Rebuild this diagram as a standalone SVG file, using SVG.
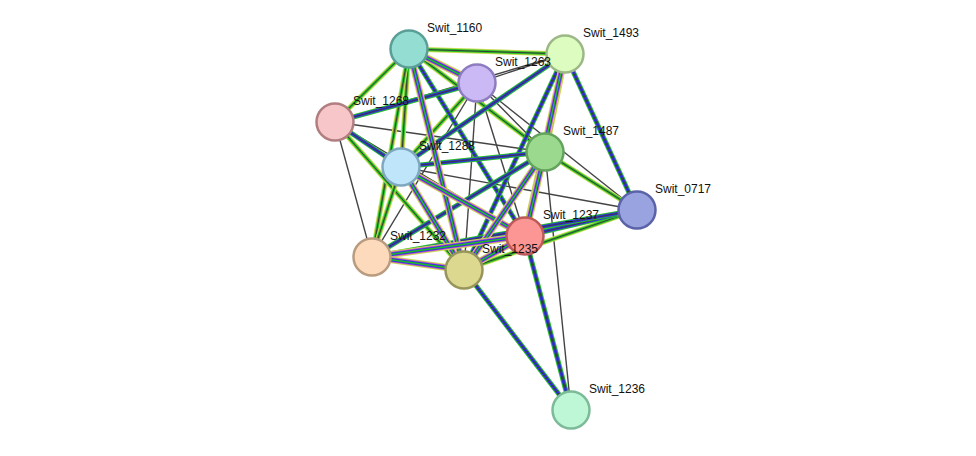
<svg xmlns="http://www.w3.org/2000/svg" xmlns:xlink="http://www.w3.org/1999/xlink" width="976" height="456" viewBox="0 0 976 456">
<style>
.ty7{stroke:#c8dc50;stroke-width:7}.tm5{stroke:#d050d0;stroke-width:5}.tb3{stroke:#3535e0;stroke-width:3.4}.tg1{stroke:#1fbf1f;stroke-width:1.5}
.gg5{stroke:#27c027;stroke-width:5}.gb3{stroke:#3030e0;stroke-width:3}.gk1{stroke:#3a3a3a;stroke-width:1}
.yy5{stroke:#c8dc50;stroke-width:5}.yg3{stroke:#27c027;stroke-width:3}
.k{stroke:#444;stroke-width:1.4}
circle{stroke-width:2.5}
text{font-family:"Liberation Sans",Arial,sans-serif;font-size:12px;fill:#111}
</style>
<defs>
<line id="a1" x1="409" y1="49" x2="565" y2="54"/>
<line id="a2" x1="409" y1="49" x2="477" y2="83"/>
<line id="a3" x1="409" y1="49" x2="335" y2="122"/>
<line id="a4" x1="409" y1="49" x2="401" y2="167"/>
<line id="a5" x1="409" y1="49" x2="545" y2="152"/>
<line id="a6" x1="409" y1="49" x2="525" y2="236"/>
<line id="a7" x1="409" y1="49" x2="464" y2="270"/>
<line id="a8" x1="409" y1="49" x2="372" y2="257"/>
<line id="b1" x1="565" y1="54" x2="477" y2="83"/>
<line id="b2" x1="565" y1="54" x2="545" y2="152"/>
<line id="b3" x1="565" y1="54" x2="525" y2="236"/>
<line id="b4" x1="565" y1="54" x2="637" y2="210"/>
<line id="b5" x1="565" y1="54" x2="335" y2="122"/>
<line id="b6" x1="565" y1="54" x2="464" y2="270"/>
<line id="b7" x1="565" y1="54" x2="401" y2="167"/>
<line id="c1" x1="477" y1="83" x2="335" y2="122"/>
<line id="c2" x1="477" y1="83" x2="401" y2="167"/>
<line id="c3" x1="477" y1="83" x2="545" y2="152"/>
<line id="c4" x1="477" y1="83" x2="525" y2="236"/>
<line id="c5" x1="477" y1="83" x2="464" y2="270"/>
<line id="c6" x1="477" y1="83" x2="372" y2="257"/>
<line id="c7" x1="477" y1="83" x2="637" y2="210"/>
<line id="d1" x1="335" y1="122" x2="401" y2="167"/>
<line id="d2" x1="335" y1="122" x2="545" y2="152"/>
<line id="d3" x1="335" y1="122" x2="372" y2="257"/>
<line id="d4" x1="335" y1="122" x2="525" y2="236"/>
<line id="d5" x1="335" y1="122" x2="464" y2="270"/>
<line id="e1" x1="401" y1="167" x2="545" y2="152"/>
<line id="e2" x1="401" y1="167" x2="525" y2="236"/>
<line id="e3" x1="401" y1="167" x2="464" y2="270"/>
<line id="e4" x1="401" y1="167" x2="372" y2="257"/>
<line id="e5" x1="401" y1="167" x2="637" y2="210"/>
<line id="f1" x1="545" y1="152" x2="637" y2="210"/>
<line id="f2" x1="545" y1="152" x2="525" y2="236"/>
<line id="f3" x1="545" y1="152" x2="464" y2="270"/>
<line id="f4" x1="545" y1="152" x2="372" y2="257"/>
<line id="f5" x1="545" y1="152" x2="571" y2="410"/>
<line id="g1" x1="637" y1="210" x2="525" y2="236"/>
<line id="g2" x1="637" y1="210" x2="464" y2="270"/>
<line id="g3" x1="637" y1="210" x2="372" y2="257"/>
<line id="h1" x1="525" y1="236" x2="464" y2="270"/>
<line id="h2" x1="525" y1="236" x2="372" y2="257"/>
<line id="h3" x1="525" y1="236" x2="571" y2="410"/>
<line id="h4" x1="464" y1="270" x2="372" y2="257"/>
<line id="h5" x1="464" y1="270" x2="571" y2="410"/>
</defs>
<g id="connectors">
<!-- K -->
<use href="#b1" class="k"/><use href="#b5" class="k"/><use href="#c3" class="k"/><use href="#c4" class="k"/><use href="#c5" class="k"/><use href="#c6" class="k"/><use href="#c7" class="k"/><use href="#d2" class="k"/><use href="#d3" class="k"/><use href="#d4" class="k"/><use href="#e5" class="k"/><use href="#f5" class="k"/>
<!-- Y -->
<use href="#a1" class="yy5"/><use href="#a1" class="yg3"/><use href="#a1" class="gk1"/>
<use href="#a3" class="yy5"/><use href="#a3" class="yg3"/><use href="#a3" class="gk1"/>
<use href="#a4" class="yy5"/><use href="#a4" class="yg3"/><use href="#a4" class="gk1"/>
<use href="#a5" class="yy5"/><use href="#a5" class="yg3"/><use href="#a5" class="gk1"/>
<use href="#a8" class="yy5"/><use href="#a8" class="yg3"/><use href="#a8" class="gk1"/>
<use href="#c2" class="yy5"/><use href="#c2" class="yg3"/><use href="#c2" class="gk1"/>
<use href="#d5" class="yy5"/><use href="#d5" class="yg3"/><use href="#d5" class="gk1"/>
<use href="#e4" class="yy5"/><use href="#e4" class="yg3"/><use href="#e4" class="gk1"/>
<use href="#f1" class="yy5"/><use href="#f1" class="yg3"/><use href="#f1" class="gk1"/>
<use href="#g2" class="yy5"/><use href="#g2" class="yg3"/><use href="#g2" class="gk1"/>
<!-- G -->
<use href="#a6" class="gg5"/><use href="#a6" class="gb3"/><use href="#a6" class="gk1"/>
<use href="#b4" class="gg5"/><use href="#b4" class="gb3"/><use href="#b4" class="gk1"/>
<use href="#b6" class="gg5"/><use href="#b6" class="gb3"/><use href="#b6" class="gk1"/>
<use href="#b7" class="gg5"/><use href="#b7" class="gb3"/><use href="#b7" class="gk1"/>
<use href="#c1" class="gg5"/><use href="#c1" class="gb3"/><use href="#c1" class="gk1"/>
<use href="#d1" class="gg5"/><use href="#d1" class="gb3"/><use href="#d1" class="gk1"/>
<use href="#e1" class="gg5"/><use href="#e1" class="gb3"/><use href="#e1" class="gk1"/>
<use href="#f4" class="gg5"/><use href="#f4" class="gb3"/><use href="#f4" class="gk1"/>
<use href="#g1" class="gg5"/><use href="#g1" class="gb3"/><use href="#g1" class="gk1"/>
<use href="#g3" class="gg5"/><use href="#g3" class="gb3"/><use href="#g3" class="gk1"/>
<use href="#h3" class="gg5"/><use href="#h3" class="gb3"/><use href="#h3" class="gk1"/>
<use href="#h5" class="gg5"/><use href="#h5" class="gb3"/><use href="#h5" class="gk1"/>
<!-- T -->
<use href="#a2" class="ty7"/><use href="#a2" class="tm5"/><use href="#a2" class="tb3"/><use href="#a2" class="tg1"/>
<use href="#a7" class="ty7"/><use href="#a7" class="tm5"/><use href="#a7" class="tb3"/><use href="#a7" class="tg1"/>
<use href="#b2" class="ty7"/><use href="#b2" class="tm5"/><use href="#b2" class="tb3"/><use href="#b2" class="tg1"/>
<use href="#b3" class="ty7"/><use href="#b3" class="tm5"/><use href="#b3" class="tb3"/><use href="#b3" class="tg1"/>
<use href="#e2" class="ty7"/><use href="#e2" class="tm5"/><use href="#e2" class="tb3"/><use href="#e2" class="tg1"/>
<use href="#e3" class="ty7"/><use href="#e3" class="tm5"/><use href="#e3" class="tb3"/><use href="#e3" class="tg1"/>
<use href="#f2" class="ty7"/><use href="#f2" class="tm5"/><use href="#f2" class="tb3"/><use href="#f2" class="tg1"/>
<use href="#f3" class="ty7"/><use href="#f3" class="tm5"/><use href="#f3" class="tb3"/><use href="#f3" class="tg1"/>
<use href="#h1" class="ty7"/><use href="#h1" class="tm5"/><use href="#h1" class="tb3"/><use href="#h1" class="tg1"/>
<use href="#h2" class="ty7"/><use href="#h2" class="tm5"/><use href="#h2" class="tb3"/><use href="#h2" class="tg1"/>
<use href="#h4" class="ty7"/><use href="#h4" class="tm5"/><use href="#h4" class="tb3"/><use href="#h4" class="tg1"/>
</g>
<g id="Swit_1160"><circle cx="409" cy="49" r="18.5" fill="#93ddd3" stroke="#5a9f96"/><text x="427" y="32">Swit_1160</text></g>
<g id="Swit_1493"><circle cx="565" cy="54" r="18.5" fill="#dcfdbf" stroke="#9bb886"/><text x="583" y="37">Swit_1493</text></g>
<g id="Swit_1263"><circle cx="477" cy="83" r="18.5" fill="#cbb9f6" stroke="#8e7cc0"/><text x="495" y="66">Swit_1263</text></g>
<g id="Swit_1268"><circle cx="335" cy="122" r="18.5" fill="#f6c6c8" stroke="#b07e80"/><text x="353" y="105">Swit_1268</text></g>
<g id="Swit_1487"><circle cx="545" cy="152" r="18.5" fill="#9bd98f" stroke="#64a35c"/><text x="563" y="135">Swit_1487</text></g>
<g id="Swit_1288"><circle cx="401" cy="167" r="18.5" fill="#bfe5fb" stroke="#7fa8c0"/><text x="419" y="150">Swit_1288</text></g>
<g id="Swit_0717"><circle cx="637" cy="210" r="18.5" fill="#99a3e0" stroke="#5a63a8"/><text x="655" y="193">Swit_0717</text></g>
<g id="Swit_1237"><circle cx="525" cy="236" r="18.5" fill="#fb9694" stroke="#bb5a58"/><text x="543" y="219">Swit_1237</text></g>
<g id="Swit_1232"><circle cx="372" cy="257" r="18.5" fill="#fddabb" stroke="#b99b7f"/><text x="390" y="240">Swit_1232</text></g>
<g id="Swit_1235"><circle cx="464" cy="270" r="18.5" fill="#dcd890" stroke="#98955a"/><text x="482" y="253">Swit_1235</text></g>
<g id="Swit_1236"><circle cx="571" cy="410" r="18.5" fill="#bdf7d6" stroke="#7cba98"/><text x="589" y="393">Swit_1236</text></g>
</svg>
